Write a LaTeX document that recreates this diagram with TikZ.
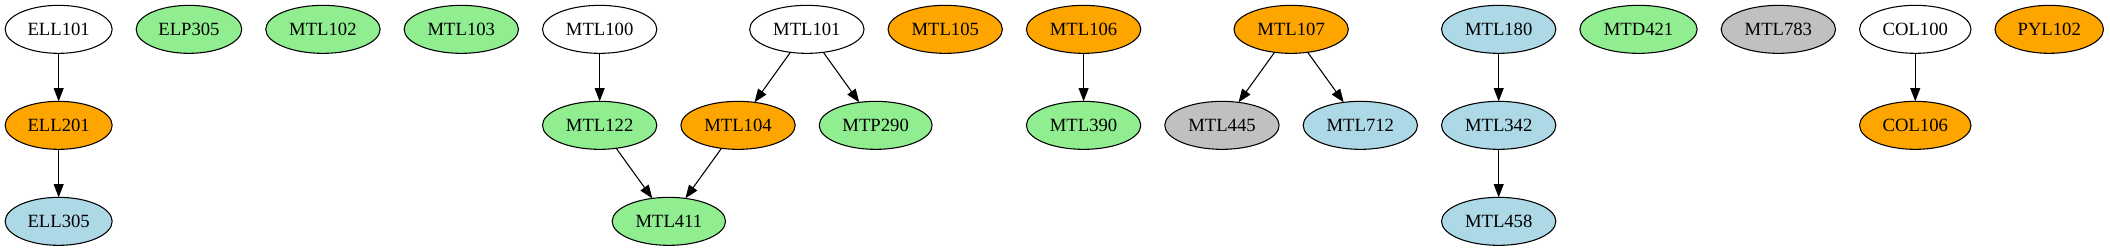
\documentclass[tikz,border=0pt]{standalone}
\usepackage{fontspec}
\setmainfont{Liberation Serif}
\usepackage{tikz}
\usetikzlibrary{positioning,arrows.meta,shapes.geometric,calc}
\definecolor{lgreen}{RGB}{144,238,144}
\definecolor{lorange}{RGB}{255,165,0}
\definecolor{lblue}{RGB}{173,216,230}
\definecolor{lgray}{RGB}{192,192,192}

\begin{document}
\begin{tikzpicture}[font=\fontsize{14}{16}\selectfont, node distance=36pt and 18pt,
    course/.style={draw, ellipse, line width=0.8pt, inner xsep=5.05pt, minimum height=36pt, outer sep=0pt},
    link/.style={-{Triangle[length=10pt,width=7.5pt]}, line width=0.8pt}]
        \useasboundingbox (0,0) rectangle (1582.5pt,-188.25pt);
        % first rank, left part
        \node[course] (ell101) at (44pt,-22pt) {ELL101};
        \node[course, right=of ell101, fill=lgreen] (elp305) {ELP305};
        \node[course, right=of elp305, fill=lgreen] (mtl102) {MTL102};
        \node[course, right=of mtl102, fill=lgreen] (mtl103) {MTL103};
        \node[course, right=of mtl103] (mtl100) {MTL100};
        \node[course, below=of ell101, fill=lorange] (ell201) {ELL201};
        \node[course, below=of ell201, fill=lblue] (ell305) {ELL305};
        % mtl100 / mtl101 group
        \node[course, below=of mtl100, fill=lgreen] (mtl122) {MTL122};
        \node[course, right=of mtl122, fill=lorange] (mtl104) {MTL104};
        \node[course, right=of mtl104, fill=lgreen] (mtp290) {MTP290};
        \node[course] (mtl101) at ($(mtl104)!0.5!(mtp290)+(0,72pt)$) {MTL101};
        \node[course, fill=lgreen] (mtl411) at ($(mtl122)!0.5!(mtl104)-(0,72pt)$) {MTL411};
        \node[course, right=of mtl101, fill=lorange] (mtl105) {MTL105};
        \node[course, right=of mtl105, fill=lorange] (mtl106) {MTL106};
        \node[course, below=of mtl106, fill=lgreen] (mtl390) {MTL390};
        % mtl107 group
        \node[course, right=of mtl390, fill=lgray] (mtl445) {MTL445};
        \node[course, right=of mtl445, fill=lblue] (mtl712) {MTL712};
        \node[course, fill=lorange] (mtl107) at ($(mtl445)!0.5!(mtl712)+(0,72pt)$) {MTL107};
        \node[course, right=of mtl712, fill=lblue] (mtl342) {MTL342};
        \node[course, above=of mtl342, fill=lblue] (mtl180) {MTL180};
        \node[course, below=of mtl342, fill=lblue] (mtl458) {MTL458};
        % first rank, right part
        \node[course, right=of mtl180, fill=lgreen] (mtd421) {MTD421};
        \node[course, right=of mtd421, fill=lgray] (mtl783) {MTL783};
        \node[course, right=of mtl783] (col100) {COL100};
        \node[course, below=of col100, fill=lorange] (col106) {COL106};
        \node[course, right=of col100, fill=lorange] (pyl102) {PYL102};
        % prerequisites
        \draw[link] (ell101)--(ell201); \draw[link] (ell201)--(ell305);
        \draw[link] (mtl100)--(mtl122);
        \draw[link] (mtl101)--(mtl104); \draw[link] (mtl101)--(mtp290);
        \draw[link] (mtl122)--(mtl411); \draw[link] (mtl104)--(mtl411);
        \draw[link] (mtl106)--(mtl390);
        \draw[link] (mtl107)--(mtl445); \draw[link] (mtl107)--(mtl712);
        \draw[link] (mtl180)--(mtl342); \draw[link] (mtl342)--(mtl458);
        \draw[link] (col100)--(col106);
      \end{tikzpicture}
\end{document}
